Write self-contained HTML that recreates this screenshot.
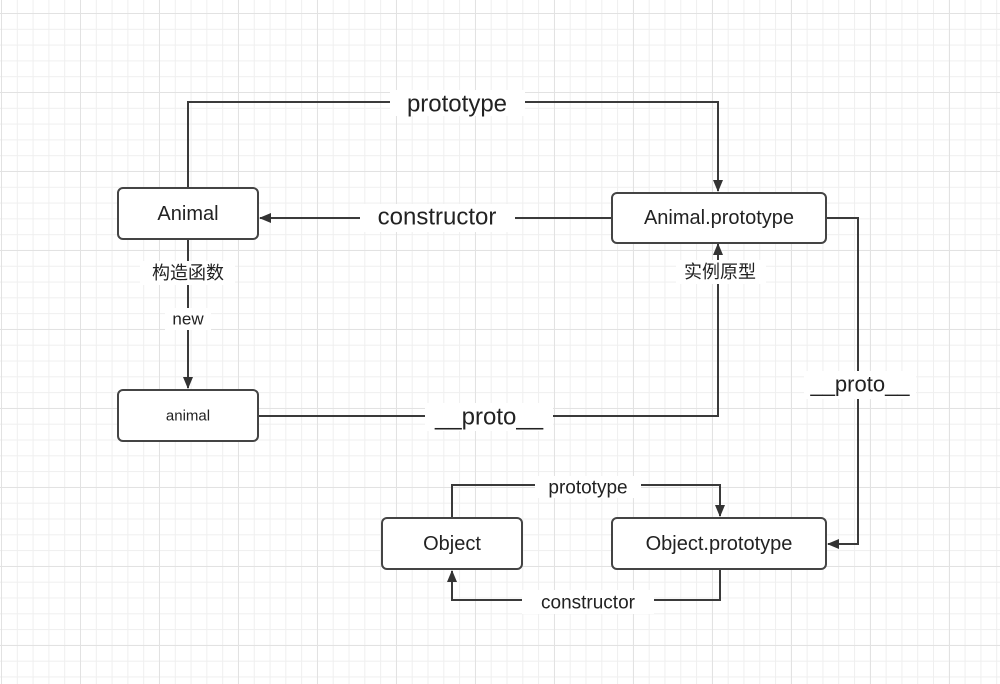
<!DOCTYPE html>
<html><head><meta charset="utf-8"><style>
html,body{margin:0;padding:0;}
body{width:1000px;height:684px;overflow:hidden;background:#fff;
background-image:linear-gradient(#e2e2e2 1px,transparent 1px),linear-gradient(90deg,#e2e2e2 1px,transparent 1px),linear-gradient(#efefef 1px,transparent 1px),linear-gradient(90deg,#efefef 1px,transparent 1px);
background-size:79px 79px,79px 79px,15.8px 15.8px,15.8px 15.8px;background-position:1px 13px,1px 13px,1px 13px,1px 13px;}
svg{position:absolute;left:0;top:0;}
text{font-family:"Liberation Sans","Noto Sans CJK SC",sans-serif;fill:#222;}
</style></head><body>
<svg width="1000" height="684" viewBox="0 0 1000 684">
<defs><marker id="a" markerWidth="12" markerHeight="10" refX="11" refY="5" orient="auto" markerUnits="userSpaceOnUse"><path d="M0,0 L12,5 L0,10 z" fill="#333"/></marker></defs>
<g fill="none" stroke="#3a3a3a" stroke-width="2">
<polyline points="188,188 188,102 718,102 718,191" marker-end="url(#a)"/>
<polyline points="612,218 260,218" marker-end="url(#a)"/>
<polyline points="188,239 188,388" marker-end="url(#a)"/>
<polyline points="258,416 718,416 718,244" marker-end="url(#a)"/>
<polyline points="826,218 858,218 858,544 828,544" marker-end="url(#a)"/>
<polyline points="452,518 452,485 720,485 720,516" marker-end="url(#a)"/>
<polyline points="720,569 720,600 452,600 452,571" marker-end="url(#a)"/>
</g>
<g fill="#fff" stroke="#444" stroke-width="2">
<rect x="118" y="188" width="140" height="51" rx="5"/>
<rect x="612" y="193" width="214" height="50" rx="5"/>
<rect x="118" y="390" width="140" height="51" rx="5"/>
<rect x="382" y="518" width="140" height="51" rx="5"/>
<rect x="612" y="518" width="214" height="51" rx="5"/>
</g>
<g text-anchor="middle" dominant-baseline="central">
<text x="188" y="214" font-size="20">Animal</text>
<text x="719" y="218" font-size="20">Animal.prototype</text>
<text x="188" y="416" font-size="15">animal</text>
<text x="452" y="544" font-size="20">Object</text>
<text x="719" y="544" font-size="20">Object.prototype</text>
</g>
<g text-anchor="middle" dominant-baseline="central">
<rect x="390" y="90" width="135" height="26" fill="#fff"/>
<text x="457" y="104" font-size="24">prototype</text>
<rect x="360" y="204" width="155" height="28" fill="#fff"/>
<text x="437" y="217" font-size="24">constructor</text>
<rect x="140" y="261" width="95" height="24" fill="#fff"/>
<text x="188" y="273" font-size="18">构造函数</text>
<rect x="165" y="308" width="46" height="22" fill="#fff"/>
<text x="188" y="319" font-size="17">new</text>
<rect x="425" y="403" width="128" height="28" fill="#fff"/>
<text x="489" y="417" font-size="24">__proto__</text>
<rect x="676" y="260" width="90" height="24" fill="#fff"/>
<text x="720" y="272" font-size="18">实例原型</text>
<rect x="804" y="371" width="112" height="28" fill="#fff"/>
<text x="860" y="384" font-size="22">__proto__</text>
<rect x="535" y="476" width="106" height="22" fill="#fff"/>
<text x="588" y="488" font-size="19">prototype</text>
<rect x="522" y="590" width="132" height="24" fill="#fff"/>
<text x="588" y="603" font-size="19">constructor</text>
</g>
</svg>
</body></html>
